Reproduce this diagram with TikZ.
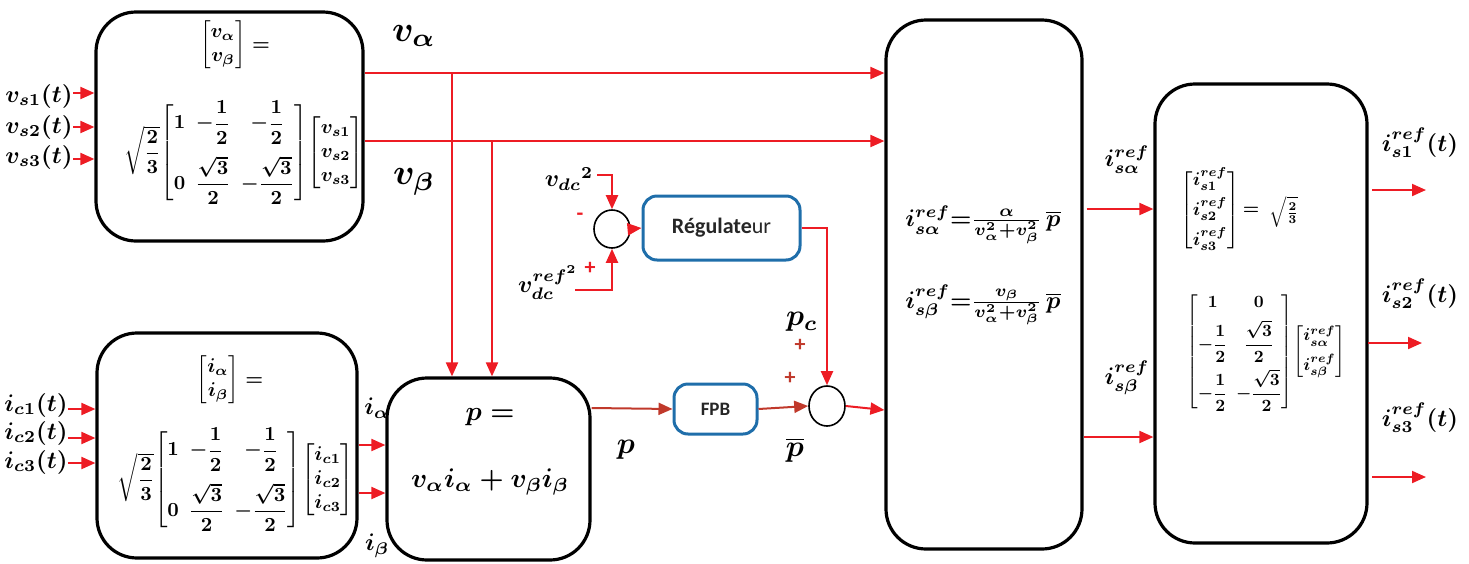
\documentclass[tikz,border=0pt]{standalone}
\usepackage{amsmath}
\usepackage{fontspec}
\newfontfamily\carlito{Carlito}
\usetikzlibrary{arrows.meta,shapes.geometric}
\definecolor{myred}{RGB}{237,28,36}
\definecolor{brick}{RGB}{192,57,43}
\definecolor{myblue}{RGB}{31,110,170}
\definecolor{txtgray}{RGB}{38,38,38}
\begin{document}
\begin{tikzpicture}[x=0.5pt,y=-0.5pt,
  blk/.style={draw=black,line width=1.6pt,rounded corners=20pt,inner sep=0pt},
  bbox/.style={draw=myblue,line width=1.5pt,rounded corners=7pt,inner sep=0pt,text=txtgray},
  sumc/.style={draw=black,line width=0.8pt,ellipse,inner sep=0pt},
  ln/.style={myred,line width=1pt},
  arr/.style={myred,line width=1pt,-{Triangle[length=7pt,width=6pt]}},
  darr/.style={brick,line width=1pt,-{Triangle[length=7pt,width=6pt]}},
  mtx/.style={font=\boldmath\setlength\arraycolsep{2.5pt},inner sep=0pt,scale=1.0},
  lbl/.style={font=\boldmath,inner sep=0pt,scale=1.2},
  blbl/.style={font=\boldmath,inner sep=0pt,scale=1.5},
  sgn/.style={font=\carlito\bfseries\fontsize{11}{12}\selectfont,inner sep=0pt}
]
\useasboundingbox (0,0) rectangle (1469,563);

% blocks
\node[blk,minimum width=133.5pt,minimum height=114.5pt] (A) at (229.5,126.5) {};
\node[blk,minimum width=130pt,minimum height=112.5pt] (B) at (227,445.5) {};
\node[blk,minimum width=101.5pt,minimum height=91pt] (P) at (488.5,469) {};
\node[blk,minimum width=98pt,minimum height=264.5pt] (M) at (984,284.5) {};
\node[blk,minimum width=106pt,minimum height=229.5pt] (R) at (1261,313.5) {};
\node[bbox,minimum width=78.5pt,minimum height=32pt] (Reg) at (721.5,228)
  {\carlito\fontsize{11}{12}\selectfont\textbf{Régulate}ur};
\node[bbox,minimum width=41.5pt,minimum height=25pt] (FPB) at (715.5,409)
  {\carlito\bfseries\fontsize{9.5}{11}\selectfont FPB};
\node[sumc,minimum width=18pt,minimum height=19pt] (C1) at (612,229) {};
\node[sumc,minimum width=18pt,minimum height=20pt] (C2) at (827,406) {};

% block contents
\node[mtx] (Aeq) at (235,45) {$\begin{bmatrix} v_{\alpha}\\ v_{\beta}\end{bmatrix}=$};
\node[mtx] (Amat) at (244,153) {$\sqrt{\dfrac{2}{3}}\!\begin{bmatrix}1 & -\dfrac{1}{2} & -\dfrac{1}{2}\\[10pt] 0 & \dfrac{\sqrt{3}}{2} & -\dfrac{\sqrt{3}}{2}\end{bmatrix}\!\begin{bmatrix}v_{s1}\\ v_{s2}\\ v_{s3}\end{bmatrix}$};
\node[mtx] (Beq) at (230,380) {$\begin{bmatrix} i_{\alpha}\\ i_{\beta}\end{bmatrix}=$};
\node[mtx] (Bmat) at (236,480) {$\sqrt{\dfrac{2}{3}}\!\begin{bmatrix}1 & -\dfrac{1}{2} & -\dfrac{1}{2}\\[10pt] 0 & \dfrac{\sqrt{3}}{2} & -\dfrac{\sqrt{3}}{2}\end{bmatrix}\!\begin{bmatrix}i_{c1}\\ i_{c2}\\ i_{c3}\end{bmatrix}$};
\node[blbl,scale=0.9] (Peq) at (490,417) {$p=$};
\node[blbl,scale=0.9] (Pexp) at (490,482) {$v_{\alpha}i_{\alpha}+v_{\beta}i_{\beta}$};
\node[lbl,scale=1.0] (Meq1) at (983,225) {$i_{s\alpha}^{ref}{=}\frac{\alpha}{v_{\alpha}^{2}+v_{\beta}^{2}}\,\overline{p}$};
\node[lbl,scale=1.0] (Meq2) at (983,305) {$i_{s\beta}^{ref}{=}\frac{v_{\beta}}{v_{\alpha}^{2}+v_{\beta}^{2}}\,\overline{p}$};
\node[mtx,scale=0.92] (Rvec) at (1220,210) {$\begin{bmatrix} i_{s1}^{ref}\\[3pt] i_{s2}^{ref}\\[3pt] i_{s3}^{ref}\end{bmatrix}{=}$};
\node[mtx,scale=0.85] (Rsq) at (1284,212) {$\sqrt{\frac{2}{3}}$};
\node[mtx,scale=0.86] (Rmat) at (1266,352) {$\begin{bmatrix} 1 & 0\\[4pt] -\dfrac{1}{2} & \dfrac{\sqrt{3}}{2}\\[8pt] -\dfrac{1}{2} & -\dfrac{\sqrt{3}}{2}\end{bmatrix}\!\begin{bmatrix} i_{s\alpha}^{ref}\\[4pt] i_{s\beta}^{ref}\end{bmatrix}$};

% labels
\node[lbl] (lvs1) at (39,96) {$v_{s1}(t)$};
\node[lbl] (lvs2) at (39,127) {$v_{s2}(t)$};
\node[lbl] (lvs3) at (39,157) {$v_{s3}(t)$};
\node[lbl] (lic1) at (36,405) {$i_{c1}(t)$};
\node[lbl] (lic2) at (36,433) {$i_{c2}(t)$};
\node[lbl] (lic3) at (36,462) {$i_{c3}(t)$};
\node[blbl,scale=1.2] (lva) at (414,36) {$v_{\alpha}$};
\node[blbl,scale=1.2] (lvb) at (414,182) {$v_{\beta}$};
\node[lbl] (lia) at (377,408) {$i_{\alpha}$};
\node[lbl] (lib) at (377,546) {$i_{\beta}$};
\node[blbl] (lp) at (626,450) {$p$};
\node[blbl] (lpb) at (795,450) {$\overline{p}$};
\node[blbl] (lpc) at (802,322) {$p_{c}$};
\node[lbl] (lvdc) at (569,179) {$v_{dc}{}^{2}$};
\node[lbl] (lvdcr) at (548,283) {$v_{dc}^{ref^{2}}$};
\node[sgn,text=myred] (sm1) at (580,217) {-};
\node[sgn,text=myred] (sp1) at (590,268) {+};
\node[sgn,text=brick] (sp2) at (800,345) {+};
\node[sgn,text=brick] (sp3) at (790,378) {+};
\node[lbl] (lisa) at (1127,160) {$i_{s\alpha}^{ref}$};
\node[lbl] (lisb) at (1127,378) {$i_{s\beta}^{ref}$};
\node[lbl] (lo1) at (1420,143) {$i_{s1}^{ref}(t)$};
\node[lbl] (lo2) at (1420,294) {$i_{s2}^{ref}(t)$};
\node[lbl] (lo3) at (1420,418) {$i_{s3}^{ref}(t)$};

% helper coordinates
\coordinate (ya) at (0,73);
\coordinate (yb) at (0,141);
\coordinate (bx1) at (452,73);
\coordinate (bx2) at (492,141);
\coordinate (d1) at (597,175);
\coordinate (d2) at (575,290);
\coordinate (yia) at (0,445);
\coordinate (yib) at (0,493);
\coordinate (yp) at (0,408);
\coordinate (ym1) at (0,209);
\coordinate (ym2) at (0,437);
\coordinate (o1) at (1372,190);
\coordinate (o2) at (1368,343);
\coordinate (o3) at (1372,477);

% connectors
\draw[arr] (A.east |- ya) -- (M.west |- ya);
\draw[arr] (A.east |- yb) -- (M.west |- yb);
\draw[arr] (bx1) -- (bx1 |- P.north);
\draw[arr] (bx2) -- (bx2 |- P.north);
\draw[arr] (lvs1.east |- 0,93) -- (A.west |- 0,93);
\draw[arr] (lvs2.east |- 0,127) -- (A.west |- 0,127);
\draw[arr] (lvs3.east |- 0,159) -- (A.west |- 0,159);
\draw[arr] (lic1.east |- 0,409) -- (B.west |- 0,409);
\draw[arr] (lic2.east |- 0,438) -- (B.west |- 0,438);
\draw[arr] (lic3.east |- 0,463) -- (B.west |- 0,463);
\draw[arr] (B.east |- yia) -- (P.west |- yia);
\draw[arr] (B.east |- yib) -- (P.west |- yib);
\draw[arr] (d1) -| (C1.north);
\draw[arr] (d2) -| (C1.south);
\draw[arr] (C1.east) -- (Reg.west);
\draw[arr] (Reg.east) -| (C2.north);
\draw[darr] (P.east |- yp) -- (FPB.west);
\draw[darr] (FPB.east) -- (C2.west);
\draw[arr] (C2.east) -- (M.west |- 0,410);
\draw[arr] (M.east |- ym1) ++(3,0) -- (R.west |- ym1);
\draw[arr] (M.east |- ym2) -- (R.west |- ym2);
\draw[arr] (o1) -- ++(54,0);
\draw[arr] (o2) -- ++(54,0);
\draw[arr] (o3) -- ++(54,0);
\end{tikzpicture}
\end{document}
